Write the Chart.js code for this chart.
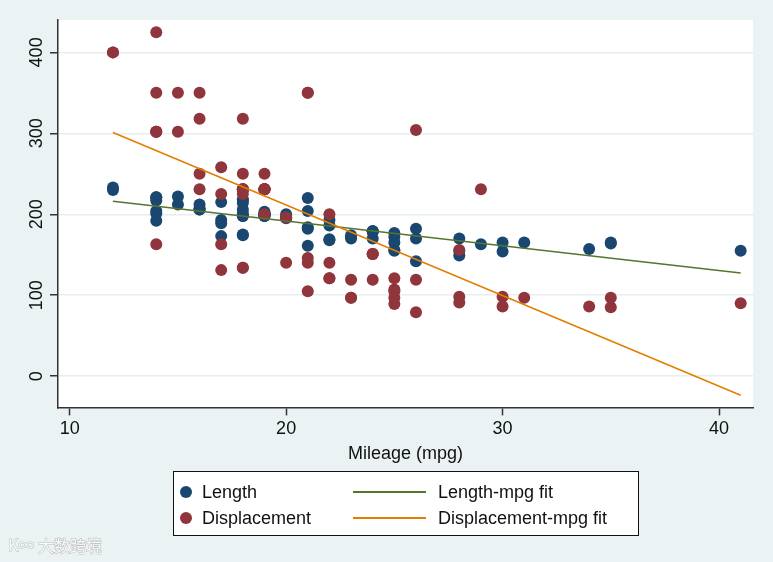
<!DOCTYPE html>
<html>
<head>
<meta charset="utf-8">
<script src="https://cdn.jsdelivr.net/npm/chart.js@4.4.1/dist/chart.umd.min.js"></script>
<style>
  html, body { margin: 0; padding: 0; background: #EAF2F3; }
  #wrap { width: 773px; height: 562px; }
</style>
</head>
<body>
<div id="wrap"><canvas id="chart"></canvas></div>
<script>
'use strict';

// auto data: mileage, length (in.), displacement (cu. in.)
const mpg = [22, 17, 22, 20, 15, 18, 26, 20, 16, 19, 14, 14, 21, 29, 16, 22, 19, 24, 19, 30,
    18, 16, 17, 28, 21, 12, 12, 14, 22, 14, 15, 18, 14, 20, 21, 19, 19, 18, 19, 24,
    16, 28, 34, 25, 26, 18, 18, 18, 19, 19, 19, 24, 17, 23, 25, 23, 35, 24, 21, 21,
    25, 28, 30, 14, 26, 35, 18, 31, 18, 23, 41, 25, 25, 17];
const lengthIn = [186, 173, 168, 196, 222, 218, 170, 200, 207, 200, 221, 204, 204, 163, 212, 193, 200, 179, 199, 165,
    206, 206, 215, 155, 182, 233, 230, 201, 169, 221, 212, 198, 217, 195, 220, 198, 198, 218, 200, 179,
    206, 170, 157, 165, 182, 201, 214, 198, 201, 199, 203, 179, 189, 174, 177, 170, 165, 170, 184, 161,
    172, 149, 154, 192, 142, 164, 174, 165, 175, 172, 155, 155, 156, 193];
const displacement = [121, 258, 121, 196, 350, 231, 304, 196, 231, 231, 425, 350, 350, 231, 250, 200, 200, 151, 250, 98,
    318, 318, 225, 98, 140, 400, 400, 302, 140, 302, 302, 250, 302, 140, 350, 231, 231, 231, 231, 151,
    350, 156, 86, 105, 119, 225, 231, 231, 231, 231, 231, 151, 131, 97, 121, 119, 85, 119, 146, 105,
    107, 91, 86, 163, 79, 97, 134, 97, 134, 97, 90, 89, 97, 163];

// fitted lines, end points
const fitMpg = [12, 41];
const lengthFit = [216, 127.5];
const displacementFit = [301, -23.5];

const xTicks = [10, 20, 30, 40];
const yTicks = [0, 100, 200, 300, 400];
const seriesNames = ['Length', 'Displacement', 'Length-mpg fit', 'Displacement-mpg fit'];

const NAVY = '#1A476F';
const MAROON = '#90353B';
const GREEN = '#55752F';
const ORANGE = '#E37E00';
const BG = '#EAF2F3';
const AXIS = '#333333';
const FONT = "'Liberation Sans', Arial, Helvetica, sans-serif";

function toPoints(xs, ys) {
    return xs.map((x, i) => ({ x: x, y: ys[i] }));
}

// canvas + plot region backgrounds
const backgroundPlugin = {
    id: 'background',
    beforeDraw(chart) {
        const ctx = chart.ctx;
        const a = chart.chartArea;
        ctx.save();
        ctx.fillStyle = BG;
        ctx.fillRect(0, 0, chart.width, chart.height);
        ctx.fillStyle = '#ffffff';
        ctx.fillRect(a.left, a.top, a.right - a.left, a.bottom - a.top);
        ctx.restore();
    }
};

// Stata style legend box: two columns, two rows
const legendBoxPlugin = {
    id: 'legendBox',
    afterDraw(chart) {
        const ctx = chart.ctx;
        const a = chart.chartArea;
        const cx = (a.left + a.right) / 2;
        const boxW = 465, boxH = 64, boxTop = 471;
        const left = cx - boxW / 2;
        ctx.save();
        ctx.fillStyle = '#ffffff';
        ctx.fillRect(left, boxTop, boxW, boxH);
        ctx.strokeStyle = '#111';
        ctx.lineWidth = 1;
        ctx.strokeRect(left + 0.5, boxTop + 0.5, boxW, boxH);

        const rows = [boxTop + 21, boxTop + 47];
        const ds = chart.data.datasets;
        ctx.font = '18px ' + FONT;
        ctx.textBaseline = 'middle';
        ctx.textAlign = 'left';
        // markers column
        [0, 1].forEach((k, r) => {
            ctx.fillStyle = ds[k].backgroundColor;
            ctx.beginPath();
            ctx.arc(left + 13, rows[r], 6, 0, Math.PI * 2);
            ctx.fill();
            ctx.fillStyle = '#111';
            ctx.fillText(ds[k].label, left + 29, rows[r] + 1);
        });
        // lines column
        [2, 3].forEach((k, r) => {
            ctx.strokeStyle = ds[k].borderColor;
            ctx.lineWidth = 2;
            ctx.beginPath();
            ctx.moveTo(left + 180, rows[r]);
            ctx.lineTo(left + 253, rows[r]);
            ctx.stroke();
            ctx.fillStyle = '#111';
            ctx.fillText(ds[k].label, left + 265, rows[r] + 1);
        });
        ctx.restore();
    }
};

// faint site watermark bottom left
const watermarkPlugin = {
    id: 'watermark',
    afterDraw(chart) {
        const ctx = chart.ctx;
        ctx.save();
        ctx.font = "16px 'Noto Sans CJK SC', sans-serif";
        ctx.textBaseline = 'middle';
        ctx.lineWidth = 1;
        ctx.strokeStyle = 'rgba(150,150,150,0.6)';
        ctx.fillStyle = 'rgba(255,255,255,0.9)';
        ctx.strokeText('K∞', 8, 545);
        ctx.fillText('K∞', 8, 545);
        ctx.strokeText('大数跨境', 38, 546);
        ctx.fillText('大数跨境', 38, 546);
        ctx.restore();
    }
};

const tickFont = { family: FONT, size: 18, lineHeight: 1.0 };

const chart = new Chart(document.getElementById('chart'), {
    type: 'scatter',
    data: {
        datasets: [
            {
                label: seriesNames[0],
                data: toPoints(mpg, lengthIn),
                backgroundColor: NAVY,
                borderColor: NAVY,
                pointRadius: 6,
                borderWidth: 0,
                order: 4
            },
            {
                label: seriesNames[1],
                data: toPoints(mpg, displacement),
                backgroundColor: MAROON,
                borderColor: MAROON,
                pointRadius: 6,
                borderWidth: 0,
                order: 3
            },
            {
                type: 'line',
                label: seriesNames[2],
                data: toPoints(fitMpg, lengthFit),
                borderColor: GREEN,
                backgroundColor: GREEN,
                borderWidth: 1.6,
                pointRadius: 0,
                fill: false,
                order: 2
            },
            {
                type: 'line',
                label: seriesNames[3],
                data: toPoints(fitMpg, displacementFit),
                borderColor: ORANGE,
                backgroundColor: ORANGE,
                borderWidth: 1.6,
                pointRadius: 0,
                fill: false,
                order: 1
            }
        ]
    },
    options: {
        responsive: true,
        maintainAspectRatio: false,
        animation: false,
        layout: { padding: { left: 0, top: 20, right: 20, bottom: 93 } },
        plugins: {
            legend: { display: false },
            tooltip: { enabled: false }
        },
        scales: {
            x: {
                type: 'linear',
                min: 9.46,
                max: 41.57,
                afterBuildTicks: scale => { scale.ticks = xTicks.map(v => ({ value: v })); },
                grid: { drawOnChartArea: false, drawTicks: true, tickLength: 8, tickColor: AXIS, tickWidth: 1.5 },
                border: { color: AXIS, width: 1.5 },
                ticks: { color: '#111', font: tickFont, padding: 5, maxRotation: 0 },
                title: {
                    display: true,
                    text: 'Mileage (mpg)',
                    color: '#111',
                    font: { family: FONT, size: 18 },
                    padding: { top: 0, bottom: 4 }
                }
            },
            y: {
                type: 'linear',
                min: -38.6,
                max: 440,
                afterBuildTicks: scale => { scale.ticks = yTicks.map(v => ({ value: v })); },
                afterFit: scale => { scale.width = 58; },
                grid: { color: '#E6EEF0', lineWidth: 1.5, drawTicks: true, tickLength: 8, tickColor: AXIS, tickWidth: 1.5 },
                border: { color: AXIS, width: 1.5 },
                ticks: { color: '#111', font: tickFont, padding: -2, minRotation: 90, maxRotation: 90, crossAlign: 'center' }
            }
        }
    },
    plugins: [backgroundPlugin, legendBoxPlugin, watermarkPlugin]
});
</script>
</body>
</html>
